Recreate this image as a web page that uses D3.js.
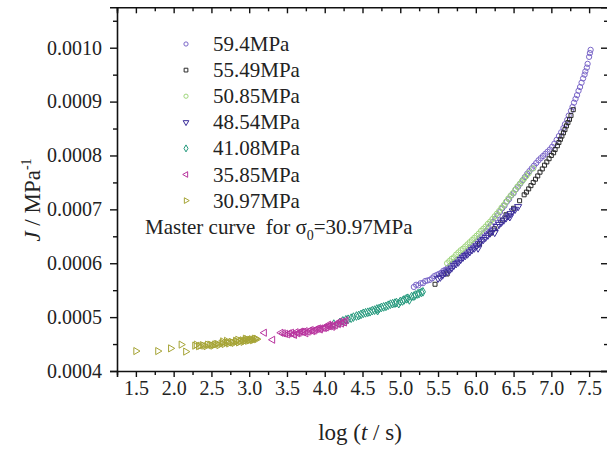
<!DOCTYPE html>
<html>
<head>
<meta charset="utf-8">
<script src="https://cdn.jsdelivr.net/npm/d3@7"></script>
<style>
  body { margin: 0; background: #fff; }
  text { font-family: "Liberation Serif", "Times New Roman", serif; fill: #222; }
</style>
</head>
<body>
<script>
// log(t/s) and J (MPa^-1), one pair of arrays per stress level
var x594 = [5.18,5.24,5.30,5.36,5.42,5.48,5.54,5.60,5.66,5.72,5.78,5.84,5.90,5.96,6.02,6.08,6.14,6.20,6.26,6.32,6.38,6.44,6.50,6.56,6.62,6.68,6.74,6.80,6.86,6.92,6.98,7.04,7.10,7.16,7.21,7.26,7.30,7.34,7.38,7.42,7.45,7.48,7.50,7.52,
            5.21,5.27,5.33,5.39,5.45,5.51,5.57,5.63,5.69,5.75,5.81,5.87,5.93,5.99,6.05,6.11,6.17,6.23,6.29,6.35,6.41,6.47,6.53,6.59,6.65,6.71,6.77,6.83,6.89,6.95,7.01,7.07,7.13,7.18,7.23,7.28,7.32,7.36,7.40,7.44,7.47,7.51];
var j594 = [0.000556,0.000559,0.000563,0.000568,0.000572,0.000578,0.000582,0.000588,0.000595,0.000601,0.000609,0.000616,0.000624,0.000632,0.000641,0.000650,0.000660,0.000671,0.000683,0.000695,0.000707,0.000719,0.000730,0.000742,0.000754,0.000766,0.000776,0.000786,0.000795,0.000803,0.000811,0.000822,0.000836,0.000851,0.000866,0.000883,0.000898,0.000912,0.000927,0.000943,0.000956,0.000970,0.000983,0.000996,
            0.000560,0.000563,0.000567,0.000569,0.000576,0.000580,0.000586,0.000591,0.000599,0.000606,0.000613,0.000620,0.000629,0.000637,0.000646,0.000656,0.000666,0.000677,0.000689,0.000702,0.000714,0.000726,0.000737,0.000748,0.000760,0.000771,0.000781,0.000791,0.000799,0.000807,0.000816,0.000829,0.000843,0.000858,0.000874,0.000890,0.000905,0.000920,0.000935,0.000950,0.000963,0.000990];

var x5549 = [5.46,5.62,6.05,6.20,6.35,6.50,6.58,6.64,6.70,6.76,6.82,6.88,6.94,7.00,7.05,7.10,7.14,7.18,7.22,7.26,7.29,
             6.67,6.73,6.79,6.85,6.91,6.97,7.03,7.08,7.12,7.16,7.20,7.24,6.40,6.25];
var j5549 = [0.000561,0.000580,0.000636,0.000656,0.000680,0.000702,0.000716,0.000727,0.000738,0.000750,0.000762,0.000775,0.000788,0.000800,0.000811,0.000824,0.000836,0.000848,0.000861,0.000874,0.000885,
             0.000732,0.000744,0.000756,0.000769,0.000782,0.000794,0.000805,0.000818,0.000830,0.000842,0.000855,0.000867,0.000690,0.000664];

var x5085 = [5.62,5.68,5.74,5.80,5.86,5.92,5.98,6.04,6.10,6.16,6.22,6.28,6.34,6.40,6.46,6.52,6.58,6.64,6.70,6.76,
             5.65,5.71,5.77,5.83,5.89,5.95,6.01,6.07,6.13,6.19,6.25,6.31,6.37,6.43,6.49,6.55,6.61,6.67];
var j5085 = [0.000600,0.000608,0.000616,0.000624,0.000631,0.000639,0.000647,0.000655,0.000664,0.000673,0.000682,0.000692,0.000703,0.000714,0.000725,0.000736,0.000747,0.000757,0.000767,0.000776,
             0.000604,0.000611,0.000620,0.000627,0.000635,0.000643,0.000651,0.000660,0.000668,0.000677,0.000687,0.000697,0.000708,0.000720,0.000730,0.000742,0.000752,0.000762];

var x4854 = [5.50,5.56,5.62,5.68,5.74,5.80,5.86,5.92,5.98,6.04,6.10,6.16,6.22,6.28,6.34,6.40,6.46,6.52,6.56,6.03,6.25,6.45,
             5.53,5.59,5.65,5.71,5.77,5.83,5.89,5.95,6.01,6.07,6.13,6.19,6.31,6.37,6.43,6.49];
var j4854 = [0.000572,0.000578,0.000584,0.000591,0.000599,0.000607,0.000614,0.000621,0.000628,0.000636,0.000644,0.000652,0.000660,0.000668,0.000676,0.000684,0.000692,0.000700,0.000705,0.000628,0.000657,0.000686,
             0.000574,0.000582,0.000587,0.000596,0.000602,0.000611,0.000617,0.000625,0.000632,0.000641,0.000648,0.000656,0.000672,0.000680,0.000688,0.000697];

var x4108 = [4.12,4.20,4.28,4.35,4.42,4.48,4.54,4.60,4.66,4.70,4.72,4.78,4.84,4.90,4.95,4.98,5.00,5.05,5.10,5.12,5.15,5.20,5.25,5.30,
             4.24,4.31,4.38,4.45,4.51,4.57,4.63,4.69,4.75,4.81,4.87,4.93,5.03,5.08,5.18,5.23,5.28];
var j4108 = [0.000487,0.000490,0.000495,0.000498,0.000502,0.000505,0.000508,0.000510,0.000513,0.000512,0.000516,0.000519,0.000522,0.000525,0.000527,0.000525,0.000529,0.000532,0.000535,0.000532,0.000538,0.000541,0.000544,0.000547,
             0.000493,0.000496,0.000500,0.000503,0.000507,0.000509,0.000512,0.000515,0.000518,0.000520,0.000524,0.000526,0.000530,0.000534,0.000539,0.000543,0.000546];

var x3585 = [3.20,3.31,3.42,3.48,3.53,3.58,3.60,3.62,3.66,3.70,3.74,3.75,3.78,3.82,3.86,3.90,3.94,3.95,3.98,4.02,4.05,4.06,4.10,4.14,4.18,4.20,4.22,4.26,
             3.45,3.51,3.56,3.64,3.68,3.72,3.80,3.84,3.88,3.92,4.00,4.04,4.08,4.12,4.16,4.24,4.28];
var j3585 = [0.000471,0.000458,0.000471,0.000469,0.000470,0.000468,0.000467,0.000472,0.000471,0.000473,0.000474,0.000470,0.000473,0.000476,0.000475,0.000478,0.000477,0.000479,0.000480,0.000481,0.000486,0.000483,0.000482,0.000485,0.000487,0.000492,0.000488,0.000490,
             0.000470,0.000468,0.000471,0.000470,0.000473,0.000472,0.000475,0.000474,0.000477,0.000479,0.000480,0.000483,0.000485,0.000484,0.000488,0.000491,0.000494];

var x3097 = [1.50,1.79,1.96,2.10,2.16,2.28,2.33,2.38,2.43,2.48,2.52,2.56,2.60,2.63,2.67,2.70,2.70,2.73,2.76,2.80,2.83,2.85,2.86,2.89,2.92,2.95,2.95,2.98,3.01,3.04,3.07,3.10,
             2.30,2.35,2.40,2.45,2.50,2.54,2.58,2.65,2.72,2.78,2.82,2.88,2.91,2.94,2.97,3.00,3.03,3.06,3.09,2.65];
var j3097 = [0.000437,0.000437,0.000442,0.000449,0.000436,0.000447,0.000446,0.000448,0.000446,0.000449,0.000447,0.000450,0.000448,0.000451,0.000450,0.000453,0.000456,0.000451,0.000454,0.000452,0.000455,0.000458,0.000453,0.000456,0.000454,0.000457,0.000460,0.000456,0.000458,0.000457,0.000460,0.000459,
             0.000449,0.000447,0.000447,0.000449,0.000448,0.000449,0.000450,0.000452,0.000453,0.000453,0.000456,0.000455,0.000457,0.000456,0.000459,0.000457,0.000459,0.000458,0.000460,0.000455];

var seriesNames = ["59.4MPa","55.49MPa","50.85MPa","48.54MPa","41.08MPa","35.85MPa","30.97MPa"];
var seriesX = [x594, x5549, x5085, x4854, x4108, x3585, x3097];
var seriesJ = [j594, j5549, j5085, j4854, j4108, j3585, j3097];
var seriesColors = ["#7a66c8","#2a2a2a","#9fd67c","#3a2c9a","#23997c","#b8349e","#a6a436"];
// symbol + rotation: circle, square, circle, down triangle, diamond, left triangle, right triangle
var seriesShapes = [d3.symbolCircle, d3.symbolSquare, d3.symbolCircle, d3.symbolTriangle, d3.symbolDiamond, d3.symbolTriangle, d3.symbolTriangle];
var seriesRot = [0, 0, 0, 180, 0, -90, 90];

var xTicks = [1.5,2.0,2.5,3.0,3.5,4.0,4.5,5.0,5.5,6.0,6.5,7.0,7.5];
var yTicks = [0.0004,0.0005,0.0006,0.0007,0.0008,0.0009,0.0010];

var w = 607, h = 450;
var pLeft = 117, pRight = 608, pTop = 7.3, pBottom = 371;

var svg = d3.select("body").append("svg")
    .attr("width", w)
    .attr("height", h);

var x = d3.scaleLinear().domain([1.25, 7.75]).range([pLeft, pRight]);
var y = d3.scaleLinear().domain([0.0004, 0.001075]).range([pBottom, pTop]);

var xMinor = [1.25,1.75,2.25,2.75,3.25,3.75,4.25,4.75,5.25,5.75,6.25,6.75,7.25];
var yMinor = [0.00045,0.00055,0.00065,0.00075,0.00085,0.00095,0.00105];

function bigText(g){
    g.selectAll("text").style("font-size", "20px").style("font-family", "Liberation Serif");
}

//bottom axis, ticks outward
svg.append("g")
    .attr("transform", "translate(0," + pBottom + ")")
    .call(d3.axisBottom(x).tickValues(xTicks).tickSize(6).tickPadding(4).tickFormat(d3.format(".1f")))
    .call(bigText);
svg.append("g")
    .attr("transform", "translate(0," + pBottom + ")")
    .call(d3.axisBottom(x).tickValues(xMinor).tickSize(4).tickFormat(""))
    .call(function(g){ g.select(".domain").remove(); });

//left axis, ticks outward
svg.append("g")
    .attr("transform", "translate(" + pLeft + ",0)")
    .call(d3.axisLeft(y).tickValues(yTicks).tickSize(7).tickPadding(8).tickFormat(d3.format(".4f")))
    .call(bigText);
svg.append("g")
    .attr("transform", "translate(" + pLeft + ",0)")
    .call(d3.axisLeft(y).tickValues(yMinor).tickSize(4).tickFormat(""))
    .call(function(g){ g.select(".domain").remove(); });

//top axis, ticks inward
svg.append("g")
    .attr("transform", "translate(0," + pTop + ")")
    .call(d3.axisBottom(x).tickValues(xTicks).tickSize(6).tickFormat(""));
svg.append("g")
    .attr("transform", "translate(0," + pTop + ")")
    .call(d3.axisBottom(x).tickValues(xMinor).tickSize(4).tickFormat(""))
    .call(function(g){ g.select(".domain").remove(); });

//right axis, ticks inward
svg.append("g")
    .attr("transform", "translate(" + pRight + ",0)")
    .call(d3.axisLeft(y).tickValues(yTicks).tickSize(7).tickFormat(""));
svg.append("g")
    .attr("transform", "translate(" + pRight + ",0)")
    .call(d3.axisLeft(y).tickValues(yMinor).tickSize(4).tickFormat(""))
    .call(function(g){ g.select(".domain").remove(); });

svg.selectAll(".domain").attr("stroke", "#111").attr("stroke-width", 1.6);
svg.selectAll(".tick line").attr("stroke", "#111").attr("stroke-width", 1.4);
svg.selectAll(".tick text").attr("fill", "#222");

//data points
seriesX.forEach(function(xs, s){
    var sym = d3.symbol().type(seriesShapes[s]).size(s == 1 ? 16 : 22);
    svg.append("g").selectAll("path")
        .data(xs.map(function(d, i){ return [d, seriesJ[s][i]]; }))
        .enter()
        .append("path")
        .attr("d", sym)
        .attr("transform", function(d){
            return "translate(" + x(d[0]) + "," + y(d[1]) + ") rotate(" + seriesRot[s] + ")";
        })
        .attr("fill", "none")
        .attr("stroke", seriesColors[s])
        .attr("stroke-width", 1);
});

//legend
var legend = svg.append("g");
seriesNames.forEach(function(name, i){
    var cy = 44 + i * 26.1;
    legend.append("path")
        .attr("d", d3.symbol().type(seriesShapes[i]).size(14))
        .attr("transform", "translate(186," + cy + ") rotate(" + seriesRot[i] + ")")
        .attr("fill", "none")
        .attr("stroke", seriesColors[i])
        .attr("stroke-width", 1);
    legend.append("text")
        .attr("x", 213)
        .attr("y", cy + 7)
        .style("font-size", "21px")
        .text(name);
});

var note = svg.append("text")
    .attr("x", 145)
    .attr("y", 234)
    .style("font-size", "21px")
    .style("white-space", "pre");
note.append("tspan").text("Master curve  for \u03c3");
note.append("tspan").attr("dy", 6).style("font-size", "14px").text("0");
note.append("tspan").attr("dy", -6).text("=30.97MPa");

//axis titles
var xt = svg.append("text")
    .attr("x", 360)
    .attr("y", 440)
    .attr("text-anchor", "middle")
    .style("font-size", "23px")
    .style("white-space", "pre");
xt.append("tspan").text("log (");
xt.append("tspan").style("font-style", "italic").text("t");
xt.append("tspan").text(" / s)");

var yt = svg.append("text")
    .attr("transform", "translate(40,200) rotate(-90)")
    .attr("text-anchor", "middle")
    .style("font-size", "23px")
    .style("white-space", "pre");
yt.append("tspan").style("font-style", "italic").text("J");
yt.append("tspan").text(" / MPa");
yt.append("tspan").attr("dy", -9).style("font-size", "14px").text("-1");
</script>
</body>
</html>
